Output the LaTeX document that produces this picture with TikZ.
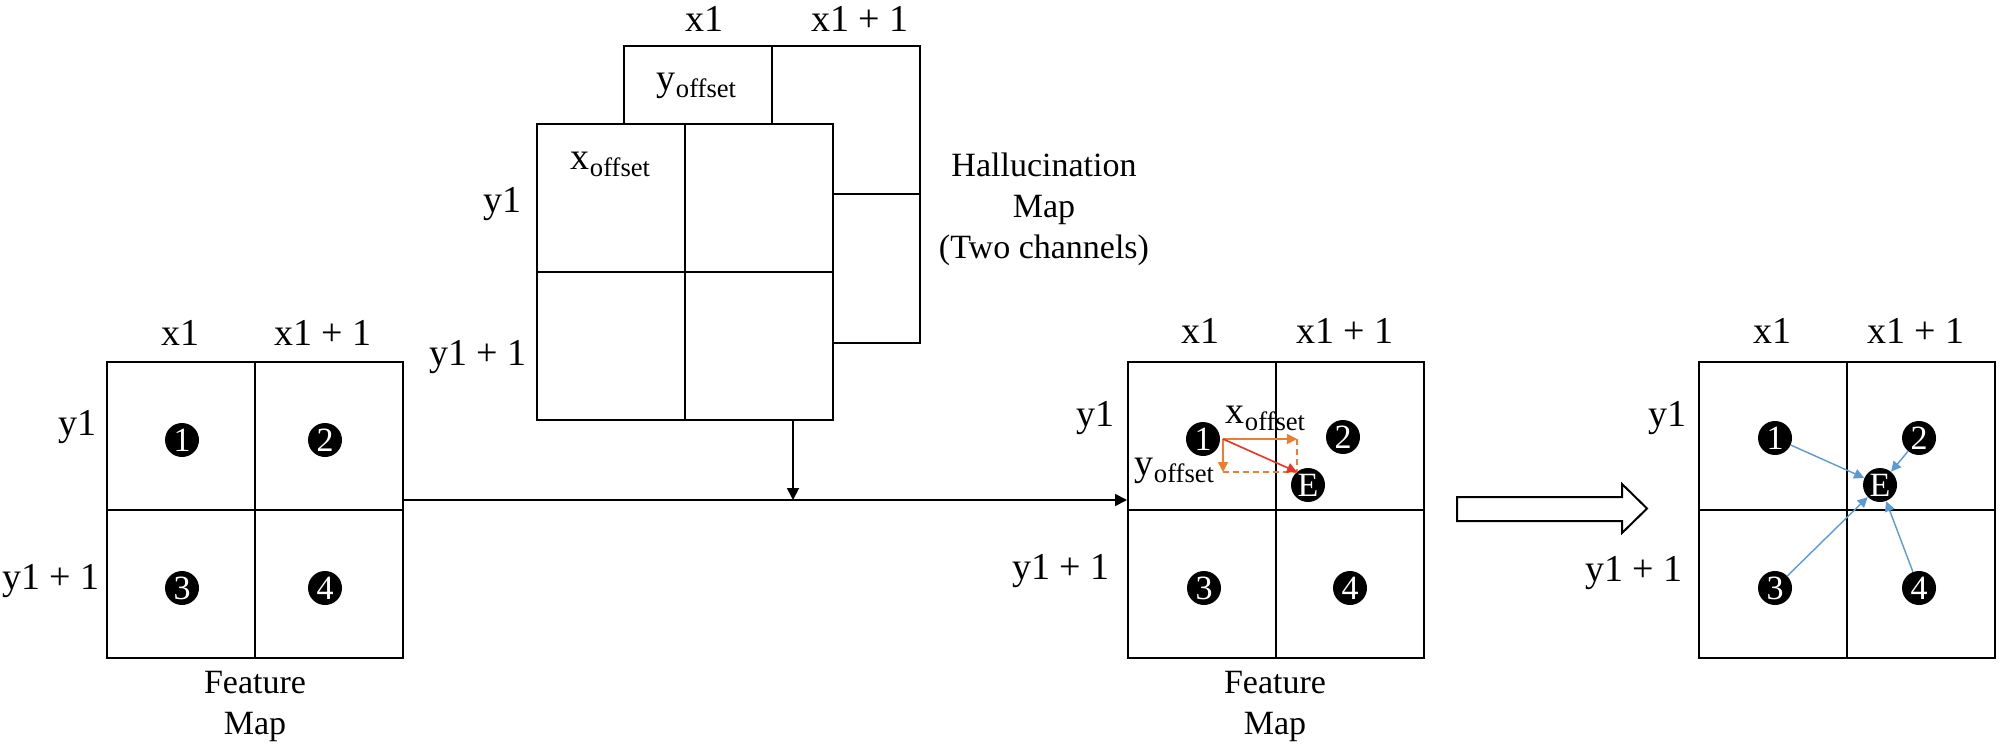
\documentclass[tikz,border=0pt]{standalone}
\usepackage{fontspec}
\setmainfont{Liberation Serif}
\usetikzlibrary{arrows.meta}
\definecolor{orng}{HTML}{ED7D31}
\definecolor{blu}{HTML}{5B9BD5}
\definecolor{redd}{HTML}{EA3323}
\tikzset{
  gridbox/.style={draw, line width=1pt, minimum width=148pt, minimum height=148pt, inner sep=0pt, fill=white},
  gridline/.style={line width=1pt},
  lbl/.style={font=\fontsize{19}{22}\selectfont, inner sep=0pt},
  offlbl/.style={font=\fontsize{19}{22}\selectfont, inner sep=0pt},
  captxt/.style={font=\fontsize{17}{20.5}\selectfont, align=center, inner sep=0pt},
  dot/.style={circle, fill=black, text=white, minimum size=17pt, inner sep=0pt, font=\fontsize{17}{17}\selectfont},
  blackarrow/.style={line width=0.9pt, -{Triangle[length=6pt, width=6pt]}},
  orarrow/.style={orng, line width=0.8pt, -{Triangle[length=5pt, width=5pt]}},
  ordash/.style={orng, line width=0.8pt, dash pattern=on 3pt off 2pt},
  redarrow/.style={redd, line width=0.8pt, -{Triangle[length=5pt, width=5pt]}},
  bluearrow/.style={blu, line width=0.7pt, -{Triangle[length=5pt, width=5pt]}},
}
\begin{document}
\begin{tikzpicture}[x=0.5pt, y=-0.5pt]
\useasboundingbox (0,0) rectangle (2006,754);

% ---------- left feature map ----------
\node[gridbox] (L) at (255,510) {};
\draw[gridline] (L.north) -- (L.south);
\draw[gridline] (L.west) -- (L.east);
\node[lbl] (Lx1) at (180,333) {x1};
\node[lbl] (Lx2) at (323,333) {x1 + 1};
\node[lbl, anchor=east] (Ly1) at (97,427) {y1};
\node[lbl, anchor=east] (Ly2) at (100,581) {y1 + 1};
\node[dot] (L1) at (182,440) {1};
\node[dot] (L2) at (325,440) {2};
\node[dot] (L3) at (182,588) {3};
\node[dot] (L4) at (325,588) {4};
\node[captxt] (Lcap) at (255,706) {Feature\\Map};

% ---------- hallucination map ----------
\node[gridbox] (Hb) at (771.5,194.5) {};
\draw[gridline] (Hb.north) -- (Hb.south);
\draw[gridline] (Hb.west) -- (Hb.east);
\node[gridbox] (Hf) at (685,272) {};
\draw[gridline] (Hf.north) -- (Hf.south);
\draw[gridline] (Hf.west) -- (Hf.east);
\node[offlbl] (Hyo) at (697,86) {y\textsubscript{offset}};
\node[offlbl] (Hxo) at (611,164) {x\textsubscript{offset}};
\node[lbl] (Hx1) at (704,19) {x1};
\node[lbl] (Hx2) at (860,19) {x1 + 1};
\node[lbl, anchor=east] (Hy1) at (522,204) {y1};
\node[lbl, anchor=east] (Hy2) at (527,357) {y1 + 1};
\node[captxt] (Hcap) at (1044,209) {Hallucination\\Map\\(Two channels)};

% ---------- middle feature map ----------
\node[gridbox] (M) at (1276,510) {};
\draw[gridline] (M.north) -- (M.south);
\draw[gridline] (M.west) -- (M.east);
\node[lbl] (Mx1) at (1200,331) {x1};
\node[lbl] (Mx2) at (1345,331) {x1 + 1};
\node[lbl, anchor=east] (My1) at (1115,418) {y1};
\node[lbl, anchor=east] (My2) at (1110,571) {y1 + 1};
\node[dot] (M1) at (1203,439) {1};
\node[dot] (M2) at (1343,437) {2};
\node[dot] (M3) at (1204,588) {3};
\node[dot] (M4) at (1350,588) {4};
\node[dot] (ME) at (1308,485) {E};
\node[captxt] (Mcap) at (1275,706) {Feature\\Map};

\coordinate (o) at (1223,439);
\coordinate (ox) at (1297,439);
\coordinate (oy) at (1223,472);
\coordinate (oe) at (1297,472);
\draw[ordash] (ox) -- (oe);
\draw[ordash] (oy) -- (oe);
\draw[orarrow] (o) -- (ox);
\draw[orarrow] (o) -- (oy);
\draw[redarrow] (o) -- (oe);
\node[offlbl] (Mxo) at (1266,418) {x\textsubscript{offset}};
\node[offlbl] (Myo) at (1175,471) {y\textsubscript{offset}};

% ---------- connectors ----------
\coordinate (j) at (793,500);
\draw[line width=0.9pt, -{Triangle[length=6pt, width=6pt]}] (L.east |- j) -- (M.west |- j);
\draw[blackarrow] (Hf.south -| j) -- (j);

% ---------- hollow arrow ----------
\draw[line width=1pt, fill=white] (1457,497) -- (1622,497) -- (1622,484) -- (1647,508.5)
  -- (1622,533) -- (1622,521) -- (1457,521) -- cycle;

% ---------- right feature map ----------
\node[gridbox] (R) at (1847,510) {};
\draw[gridline] (R.north) -- (R.south);
\draw[gridline] (R.west) -- (R.east);
\node[lbl] (Rx1) at (1772,331) {x1};
\node[lbl] (Rx2) at (1916,331) {x1 + 1};
\node[lbl, anchor=east] (Ry1) at (1687,418) {y1};
\node[lbl, anchor=east] (Ry2) at (1683,573) {y1 + 1};
\node[dot] (R1) at (1775,438) {1};
\node[dot] (R2) at (1919,438) {2};
\node[dot] (R3) at (1775,588) {3};
\node[dot] (R4) at (1919,588) {4};
\node[dot] (RE) at (1880,485) {E};
\draw[bluearrow] (R1) -- (RE);
\draw[bluearrow] (R2) -- (RE);
\draw[bluearrow] (R3) -- (RE);
\draw[bluearrow] (R4) -- (RE);
\end{tikzpicture}
\end{document}
